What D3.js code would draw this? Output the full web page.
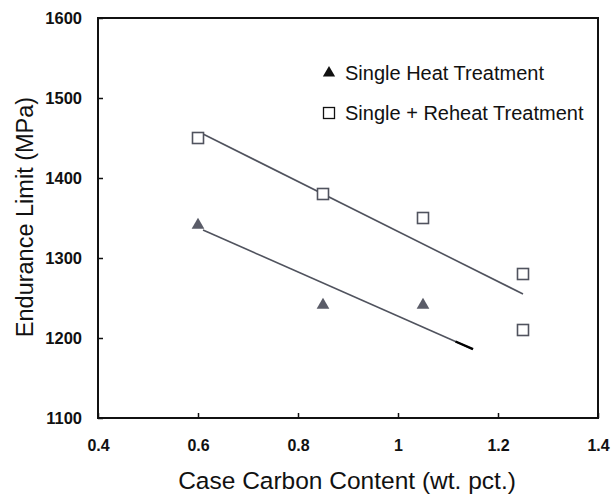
<!DOCTYPE html>
<html>
<head>
<meta charset="utf-8">
<script src="https://cdn.jsdelivr.net/npm/d3@7"></script>
<style>
  body { margin: 0; background: #fff; }
  svg text { font-family: "Liberation Sans", Arial, sans-serif; fill: #111; }
</style>
</head>
<body>
<svg id="chart" width="611" height="496"></svg>
<script>
// data
const singleCarbon = [0.6, 0.85, 1.05];
const singleLimit = [1340, 1240, 1240];
const reheatCarbon = [0.6, 0.85, 1.05, 1.25, 1.25];
const reheatLimit = [1450, 1380, 1350, 1280, 1210];
// fitted lines, end points
const reheatFit = [[0.61, 1455], [1.25, 1255]];
const singleFit = [[0.61, 1335], [1.15, 1186]];
const xTicks = [0.4, 0.6, 0.8, 1, 1.2, 1.4];
const yTicks = [1100, 1200, 1300, 1400, 1500, 1600];

let svg = d3.select('#chart'),
    margin = {top: 18, right: 13, bottom: 78, left: 98},
    width = +svg.attr("width") - margin.left - margin.right,
    height = +svg.attr("height") - margin.top - margin.bottom;

let g = svg.append("g").attr("transform", "translate(" + margin.left + "," + margin.top + ")");

let xScale = d3.scaleLinear().domain([0.4, 1.4]).range([0, width]);
let yScale = d3.scaleLinear().domain([1100, 1600]).range([height, 0]);

// frame
g.append("rect")
    .attr("width", width).attr("height", height)
    .attr("fill", "none").attr("stroke", "#111").attr("stroke-width", 2);

// axes with inward ticks
let xAxis = d3.axisBottom(xScale).tickValues(xTicks).tickSize(-5).tickPadding(22)
    .tickFormat(d => d3.format("")(d));
g.append("g").attr("transform", "translate(0," + height + ")").call(xAxis)
    .call(a => a.select(".domain").remove())
    .call(a => a.selectAll("line").attr("stroke", "#111").attr("stroke-width", 1.5))
    .call(a => a.selectAll("text").attr("font-size", 16).attr("font-weight", "bold")
        .attr("font-family", "Liberation Sans, Arial, sans-serif").attr("fill", "#111"));

let yAxis = d3.axisLeft(yScale).tickValues(yTicks).tickSize(-5).tickPadding(16)
    .tickFormat(d3.format("d"));
g.append("g").call(yAxis)
    .call(a => a.select(".domain").remove())
    .call(a => a.selectAll("line").attr("stroke", "#111").attr("stroke-width", 1.5))
    .call(a => a.selectAll("text").attr("font-size", 16.5).attr("font-weight", "bold")
        .attr("font-family", "Liberation Sans, Arial, sans-serif").attr("fill", "#111"));

// fit lines
let line = d3.line().x(d => xScale(d[0])).y(d => yScale(d[1]));
g.append("path").datum(reheatFit).attr("d", line)
    .attr("fill", "none").attr("stroke", "#50535e").attr("stroke-width", 1.6);
g.append("path").datum(singleFit).attr("d", line)
    .attr("fill", "none").attr("stroke", "#50535e").attr("stroke-width", 1.6);
// darker end of the lower line
let tailStart = singleFit[0][1] + (singleFit[1][1] - singleFit[0][1]) * (1.115 - singleFit[0][0]) / (singleFit[1][0] - singleFit[0][0]);
g.append("path").datum([[1.115, tailStart], singleFit[1]]).attr("d", line)
    .attr("fill", "none").attr("stroke", "#000").attr("stroke-width", 2.4);

// markers
let tri = d3.symbol().type(d3.symbolTriangle).size(70);
g.selectAll(".tri").data(singleCarbon).enter().append("path")
    .attr("class", "tri")
    .attr("d", tri)
    .attr("transform", (d, i) => "translate(" + xScale(d) + "," + (yScale(singleLimit[i]) - 1) + ")")
    .attr("fill", "#5a5c68");

g.selectAll(".sq").data(reheatCarbon).enter().append("rect")
    .attr("class", "sq")
    .attr("x", d => xScale(d) - 5.5)
    .attr("y", (d, i) => yScale(reheatLimit[i]) - 5.5)
    .attr("width", 11).attr("height", 11)
    .attr("fill", "#fff").attr("stroke", "#50535e").attr("stroke-width", 1.6);

// legend
let legend = svg.append("g");
legend.append("path").attr("d", d3.symbol().type(d3.symbolTriangle).size(65))
    .attr("transform", "translate(329,73)").attr("fill", "#111");
legend.append("text").attr("x", 345).attr("y", 80).attr("font-size", 20).text("Single Heat Treatment");
legend.append("rect").attr("x", 323.5).attr("y", 107.5).attr("width", 11).attr("height", 11)
    .attr("fill", "#fff").attr("stroke", "#111").attr("stroke-width", 1.3);
legend.append("text").attr("x", 345).attr("y", 120).attr("font-size", 20).text("Single + Reheat Treatment");

// axis titles
svg.append("text").attr("x", 347).attr("y", 489)
    .attr("text-anchor", "middle").attr("font-size", 24.5)
    .text("Case Carbon Content (wt. pct.)");
svg.append("text").attr("transform", "translate(33,217) rotate(-90)")
    .attr("text-anchor", "middle").attr("font-size", 23.5)
    .text("Endurance Limit (MPa)");
</script>
</body>
</html>
